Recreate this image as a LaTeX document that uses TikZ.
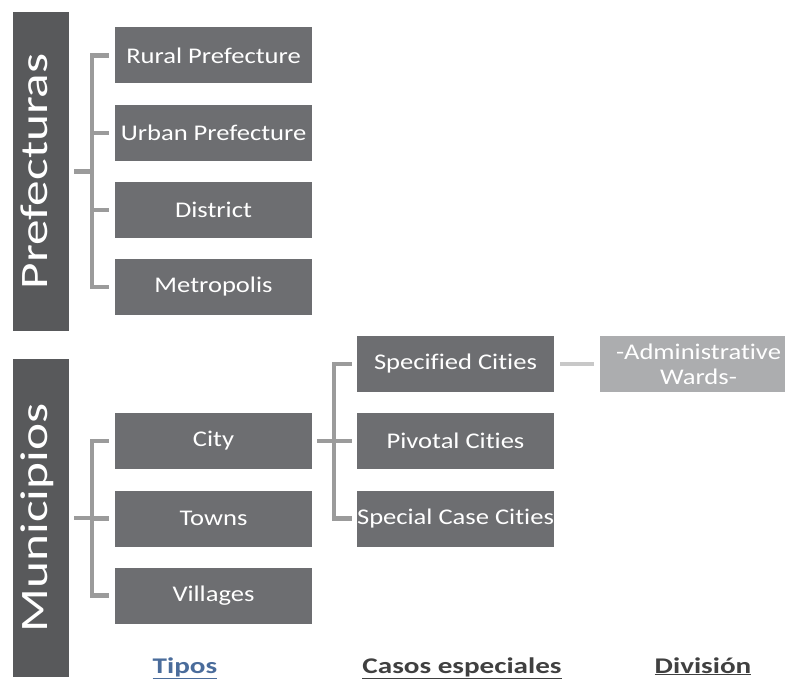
\documentclass[tikz,border=0pt]{standalone}
\usepackage{fontspec}
\setmainfont{Carlito}[Ligatures=NoCommon]
\newfontfamily\levelfont{Carlito}[FakeStretch=1.32, Ligatures=NoCommon]
\newfontfamily\boxfont{Carlito}[FakeStretch=1.185, Ligatures=NoCommon]
\newfontfamily\headfont{Carlito}[FakeStretch=1.3, Ligatures=NoCommon]
\usetikzlibrary{positioning}

\definecolor{bargray}{HTML}{58595B}
\definecolor{boxgray}{HTML}{6D6E71}
\definecolor{wardgray}{HTML}{ACADAF}
\definecolor{linkgray}{HTML}{9B9B9B}
\definecolor{linklight}{HTML}{C8C8C8}
\definecolor{headblue}{HTML}{4A6C9B}
\definecolor{headdark}{HTML}{404040}

\begin{document}
\begin{tikzpicture}[
  x=1bp, y=-1bp,
  line cap=butt, line join=miter,
  level/.style={fill=bargray, text=white, minimum width=318bp, minimum height=56bp,
    inner sep=0pt, text height=27bp, text depth=15bp,
    font=\levelfont\fontsize{39}{43}\selectfont, rotate=90},
  unit/.style={fill=boxgray, text=white, minimum width=197bp, minimum height=56bp,
    inner sep=0pt, font=\boxfont\fontsize{22.5}{26}\selectfont},
  ward/.style={unit, fill=wardgray, align=center, font=\boxfont\fontsize{22.5}{25.5}\selectfont},
  link/.style={draw=linkgray, line width=4.5bp},
  wardlink/.style={draw=linklight, line width=4.5bp},
  head/.style={anchor=base, font=\headfont\bfseries\fontsize{22.5}{26}\selectfont}
]
  \useasboundingbox (0,0) rectangle (785,679);

  % the two levels
  \node[level] (pref) at (41,171.5) {Prefecturas};
  \node[level] (muni) at (41,518)   {Municipios};

  % prefecture types
  \node[unit] (rural)    at (213.5,55.5) {Rural Prefecture};
  \node[unit] (urban)    at (213.5,133)  {Urban Prefecture};
  \node[unit] (district) at (213.5,210)  {District};
  \node[unit] (metro)    at (213.5,287)  {Metropolis};

  % municipality types
  \node[unit] (city)     at (213.5,441)   {City};
  \node[unit] (towns)    at (213.5,518.5) {Towns};
  \node[unit] (villages) at (213.5,595.5) {Villages};

  % special cases of a city
  \node[unit] (specified) at (455.5,364)   {Specified Cities};
  \node[unit] (pivotal)   at (455.5,441)   {Pivotal Cities};
  \node[unit] (specialc)  at (455.5,518.5) {Special Case Cities};

  % division of specified cities
  \node[ward] (wards) at (698.5,364) {-Administrative\\Wards-};

  % brackets
  \coordinate (pbus) at ([xshift=23bp]pref.south);
  \draw[link] ([xshift=-6bp]rural.west) -| (pbus |- metro) -- ([xshift=-6bp]metro.west);
  \draw[link] ([xshift=-6bp]urban.west) -- (pbus |- urban);
  \draw[link] ([xshift=-6bp]district.west) -- (pbus |- district);
  \draw[link] ([xshift=5bp]pref.south) -- (pbus);

  \coordinate (mbus) at ([xshift=23bp]muni.south);
  \draw[link] ([xshift=-6bp]city.west) -| (mbus |- villages) -- ([xshift=-6bp]villages.west);
  \draw[link] ([xshift=5bp]muni.south) -- (mbus);
  \draw[link] ([xshift=-6bp]towns.west) -- (mbus |- towns);

  \coordinate (cbus) at ([xshift=22bp]city.east);
  \draw[link] ([xshift=-5bp]specified.west) -| (cbus |- specialc) -- ([xshift=-5bp]specialc.west);
  \draw[link] ([xshift=5bp]city.east) -- ([xshift=-5bp]pivotal.west);

  \draw[wardlink] ([xshift=6bp]specified.east) -- ([xshift=-6bp]wards.west);

  % column headings
  \node[head, text=headblue] (tipos) at (185,673)  {\underline{Tipos}};
  \node[head, text=headdark] (casos) at (462,673)  {\underline{Casos especiales}};
  \node[head, text=headdark] (divis) at (703,673)  {\underline{División}};
\end{tikzpicture}
\end{document}
